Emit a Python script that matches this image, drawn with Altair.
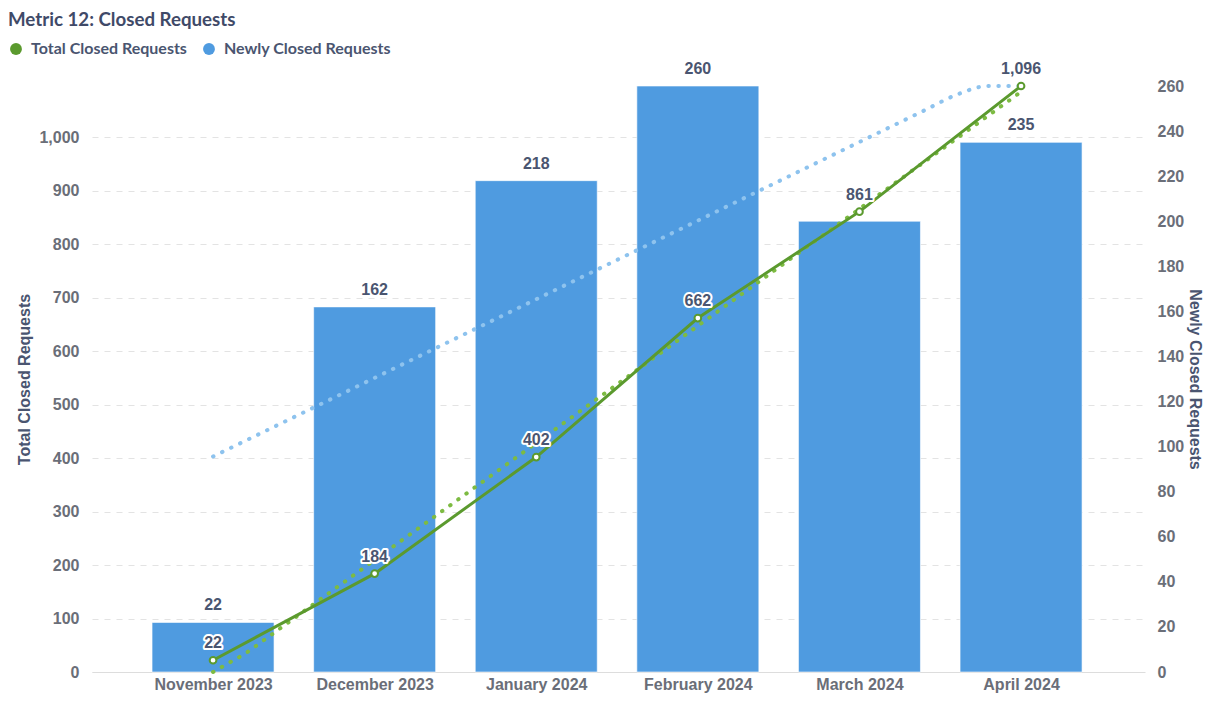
import altair as alt
import pandas as pd

months = ["November 2023", "December 2023", "January 2024", "February 2024", "March 2024", "April 2024"]
total_closed = [22, 184, 402, 662, 861, 1096]
newly_closed = [22, 162, 218, 260, 200, 235]
bar_label_shown = [True, True, True, True, False, True]  # the 200 label is hidden in the reference
left_ticks = [0, 100, 200, 300, 400, 500, 600, 700, 800, 900, 1000]
right_ticks = [0, 20, 40, 60, 80, 100, 120, 140, 160, 180, 200, 220, 240, 260]
series = ["Total Closed Requests", "Newly Closed Requests"]
colors = ["#5b9a2e", "#4f9be0"]

df = pd.DataFrame({
    "idx": list(range(len(months))),
    "month": months,
    "total": total_closed,
    "newly": newly_closed,
    "shown": bar_label_shown,
    "series": ["Newly Closed Requests"] * len(months),
})

label_expr = "[" + ",".join("'" + m + "'" for m in months) + "][datum.value]"

AX_LABEL = "#6a6e78"
DARK = "#4a5570"
AXFONT = "Liberation Sans"

x = alt.X(
    "idx:Q",
    scale=alt.Scale(domain=[-0.749, 5.767], nice=False, zero=False, padding=0),
    axis=alt.Axis(
        values=list(range(len(months))), labelExpr=label_expr, title=None, grid=False,
        ticks=False, domainColor="#dddddd", labelPadding=4, labelFont=AXFONT,
        labelFontSize=16, labelFontWeight="bold", labelColor=AX_LABEL, labelAngle=0,
    ),
)

y_right_scale = alt.Scale(domain=[0, 260], nice=False, clamp=True)
y_left_scale = alt.Scale(domain=[0, 1096], nice=False, clamp=True)

base = alt.Chart(df)

bars = base.mark_bar(size=122, stroke="#ffffff", strokeWidth=1, strokeOpacity=0.6).encode(
    x=x,
    y=alt.Y(
        "newly:Q", scale=y_right_scale,
        axis=alt.Axis(
            orient="right", values=right_ticks, title="Newly Closed Requests", grid=False,
            domain=False, ticks=False, labelPadding=12, titlePadding=3,
            labelFont=AXFONT, labelFontSize=16, labelFontWeight="bold", labelColor=AX_LABEL,
            titleFont=AXFONT, titleFontSize=16, titleFontWeight="bold", titleColor=DARK,
        ),
    ),
    color=alt.Color(
        "series:N",
        scale=alt.Scale(domain=series, range=colors),
        legend=alt.Legend(
            title=None, orient="none", direction="horizontal", legendX=-84, legendY=-45,
            symbolType="circle", symbolSize=140, labelFont="Lato", labelFontSize=16,
            labelFontWeight="bold", labelColor=DARK, columnPadding=14, labelOffset=7,
            symbolStrokeWidth=0, padding=0, labelLimit=400,
        ),
    ),
)

bar_labels = base.transform_filter("datum.shown").mark_text(
    dy=-17, font=AXFONT, fontSize=16, fontWeight="bold", color=DARK
).encode(x=x, y=alt.Y("newly:Q", scale=y_right_scale), text=alt.Text("newly:Q", format=",d"))

blue_trend = base.transform_regression(
    "idx", "newly", method="poly", order=1, extent=[0, 5]
).mark_line(
    color="#8ec3ee", strokeWidth=4, strokeDash=[0.5, 9.5], strokeCap="round", interpolate="monotone"
).encode(x=x, y=alt.Y("newly:Q", scale=y_right_scale))

right = alt.layer(bars, blue_trend, bar_labels)

green_trend = base.transform_regression(
    "idx", "total", method="poly", order=1, extent=[0, 5]
).mark_line(
    color="#7dbb42", strokeWidth=4, strokeDash=[0.5, 9.5], strokeCap="round"
).encode(
    x=x,
    y=alt.Y(
        "total:Q", scale=y_left_scale,
        axis=alt.Axis(
            orient="left", values=left_ticks, title="Total Closed Requests", format=",d",
            grid=True, gridDash=[6, 6], gridColor="#e3e3e3", domain=False, ticks=False,
            labelPadding=13, titlePadding=6,
            labelFont=AXFONT, labelFontSize=16, labelFontWeight="bold", labelColor=AX_LABEL,
            titleFont=AXFONT, titleFontSize=16, titleFontWeight="bold", titleColor=DARK,
        ),
    ),
)

line = base.mark_line(color="#5b9a2e", strokeWidth=3).encode(
    x=x, y=alt.Y("total:Q", scale=y_left_scale)
)

points = base.mark_point(
    shape="circle", size=45, filled=True, fill="#ffffff", stroke="#5b9a2e", strokeWidth=2, opacity=1
).encode(x=x, y=alt.Y("total:Q", scale=y_left_scale))

halo = base.mark_text(
    dy=-17, font=AXFONT, fontSize=16, fontWeight="bold", color="#ffffff",
    stroke="#ffffff", strokeWidth=4, strokeJoin="round"
).encode(x=x, y=alt.Y("total:Q", scale=y_left_scale), text=alt.Text("total:Q", format=",d"))

line_labels = base.mark_text(
    dy=-17, font=AXFONT, fontSize=16, fontWeight="bold", color=DARK
).encode(x=x, y=alt.Y("total:Q", scale=y_left_scale), text=alt.Text("total:Q", format=",d"))

left = alt.layer(green_trend, line, points, halo, line_labels)

chart = alt.layer(right, left).resolve_scale(y="independent").properties(
    width=1053,
    height=586,
    autosize=alt.AutoSizeParams(type="none"),
    padding={"left": 84, "top": 78, "right": 58, "bottom": 22},
    title=alt.TitleParams(
        "Metric 12: Closed Requests", anchor="start", frame="bounds", font="Lato",
        fontSize=18.7, fontWeight="bold", color="#3f4a68", offset=11,
    ),
).configure_view(stroke=None)

chart.save("out.html", embed_options={"renderer": "svg", "actions": False})
